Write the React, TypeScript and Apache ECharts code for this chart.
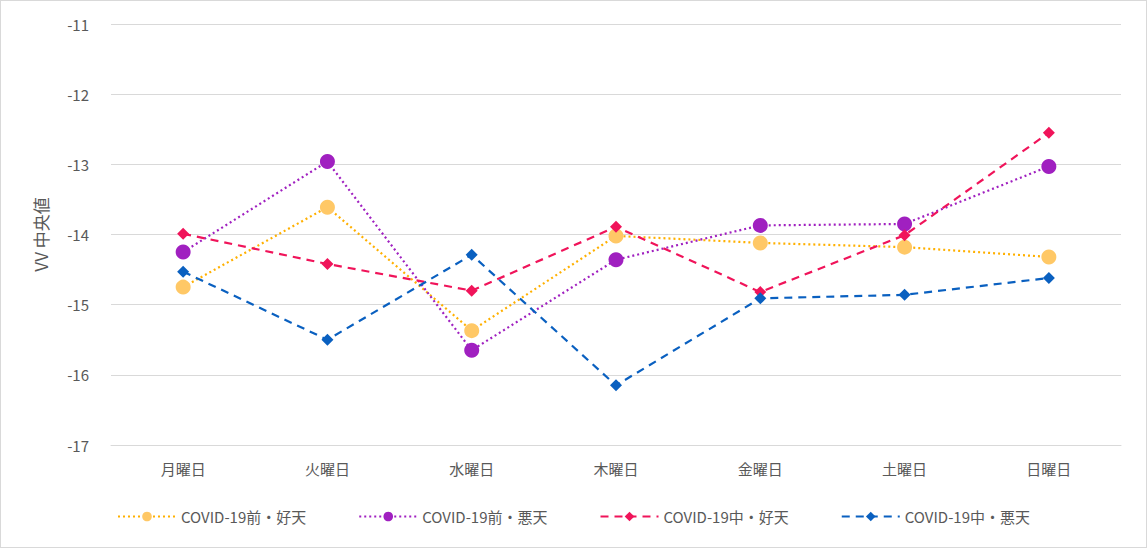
import React, { useEffect, useRef } from 'react';
import * as echarts from 'echarts';

const days = ['月曜日', '火曜日', '水曜日', '木曜日', '金曜日', '土曜日', '日曜日'];
const preGood = [-14.75, -13.61, -15.37, -14.02, -14.12, -14.18, -14.32];
const preBad = [-14.25, -12.96, -15.65, -14.36, -13.87, -13.85, -13.03];
const duringGood = [-13.99, -14.42, -14.8, -13.89, -14.82, -14.01, -12.55];
const duringBad = [-14.53, -15.5, -14.29, -16.15, -14.91, -14.86, -14.62];

const font = '"Noto Sans CJK JP", "Noto Sans", sans-serif';

export default function App() {
    const chartRef = useRef<HTMLDivElement>(null);

    useEffect(() => {
        document.body.style.margin = '0';
        if (!chartRef.current) return;
        const chart = echarts.init(chartRef.current, undefined, { renderer: 'svg' });
        const mk = (name: string, data: number[], color: string, lineColor: string, symbol: string, size: number, lineType: any) => ({
            name, type: 'line', data, symbol, symbolSize: size,
            itemStyle: { color },
            lineStyle: { color: lineColor, width: 2.2, type: lineType },
        });
        chart.setOption({
            animation: false,
            textStyle: { fontFamily: font },
            grid: { left: 110, right: 25, top: 23, bottom: 102 },
            xAxis: {
                type: 'category', data: days,
                axisLine: { lineStyle: { color: '#d9d9d9' } },
                axisTick: { show: false },
                axisLabel: { color: '#595959', fontSize: 15, margin: 16, fontFamily: font },
            },
            yAxis: {
                type: 'value', min: -17, max: -11, interval: 1,
                name: 'VV 中央値', nameLocation: 'middle', nameGap: 62,
                nameTextStyle: { color: '#595959', fontSize: 17, fontFamily: font },
                axisLine: { show: false },
                axisLabel: { color: '#595959', fontSize: 15, margin: 22, fontFamily: font },
                splitLine: { lineStyle: { color: '#d9d9d9' } },
            },
            legend: {
                bottom: 18, left: 'center', itemWidth: 58, itemHeight: 12, itemGap: 52,
                textStyle: { color: '#595959', fontSize: 15, fontFamily: font },
            },
            series: [
                mk('COVID-19前・好天', preGood, '#FFC866', '#FFB000', 'circle', 15, [2, 3]),
                mk('COVID-19前・悪天', preBad, '#A020C0', '#A020C0', 'circle', 15, [2, 3]),
                mk('COVID-19中・好天', duringGood, '#F0145A', '#F0145A', 'diamond', 12, [8, 6]),
                mk('COVID-19中・悪天', duringBad, '#0A60C0', '#0A60C0', 'diamond', 12, [8, 6]),
            ],
        });
        return () => chart.dispose();
    }, []);

    return <div ref={chartRef} style={{ width: 1145, height: 546, border: '1px solid #d9d9d9' }} />;
}
